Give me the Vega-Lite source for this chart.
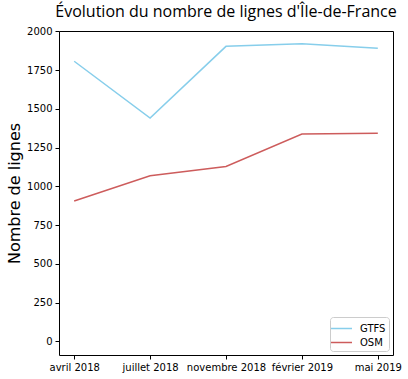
{
  "$schema": "https://vega.github.io/schema/vega-lite/v6.json",
  "autosize": "none",
  "width": 334,
  "height": 324,
  "padding": {"left": 59, "top": 31, "right": 15, "bottom": 24},
  "background": "white",
  "title": {"text": "Évolution du nombre de lignes d'Île-de-France", "font": "Open Sans", "fontSize": 16, "fontWeight": "normal", "color": "black", "anchor": "middle", "offset": 6},
  "config": {
    "view": {"stroke": "black", "strokeWidth": 1},
    "axis": {"labelFont": "DejaVu Sans", "labelFontSize": 10, "labelColor": "black", "tickColor": "black", "tickSize": 4, "domain": false, "grid": false, "labelPadding": 3}
  },
  "data": {"values": [
    {"date": "avril 2018", "source": "GTFS", "n": 1807},
    {"date": "juillet 2018", "source": "GTFS", "n": 1440},
    {"date": "novembre 2018", "source": "GTFS", "n": 1903},
    {"date": "février 2019", "source": "GTFS", "n": 1919},
    {"date": "mai 2019", "source": "GTFS", "n": 1891},
    {"date": "avril 2018", "source": "OSM", "n": 905},
    {"date": "juillet 2018", "source": "OSM", "n": 1068},
    {"date": "novembre 2018", "source": "OSM", "n": 1128},
    {"date": "février 2019", "source": "OSM", "n": 1338},
    {"date": "mai 2019", "source": "OSM", "n": 1342}
  ]},
  "mark": {"type": "line", "strokeWidth": 1.5},
  "encoding": {
    "x": {"field": "date", "type": "ordinal", "sort": ["avril 2018", "juillet 2018", "novembre 2018", "février 2019", "mai 2019"], "scale": {"type": "point", "padding": 0.2}, "axis": {"title": null, "labelAngle": 0}},
    "y": {"field": "n", "type": "quantitative", "scale": {"domain": [-88, 2002], "nice": false, "zero": false}, "axis": {"values": [0, 250, 500, 750, 1000, 1250, 1500, 1750, 2000], "format": "d", "title": "Nombre de lignes", "titleFont": "DejaVu Sans", "titleFontSize": 16, "titleFontWeight": "normal", "titleColor": "black", "titlePadding": 4}},
    "color": {"field": "source", "type": "nominal", "scale": {"domain": ["GTFS", "OSM"], "range": ["#87CEEB", "#CD5C5C"]}, "legend": {"title": null, "orient": "bottom-right", "offset": 4, "fillColor": "white", "strokeColor": "#cccccc", "cornerRadius": 3, "padding": 3, "symbolType": "M-1.4,0H1.4", "symbolSize": 225, "symbolStrokeWidth": 1.5, "labelOffset": 10, "labelFont": "DejaVu Sans", "labelFontSize": 10, "labelColor": "black", "rowPadding": 0}}
  }
}
